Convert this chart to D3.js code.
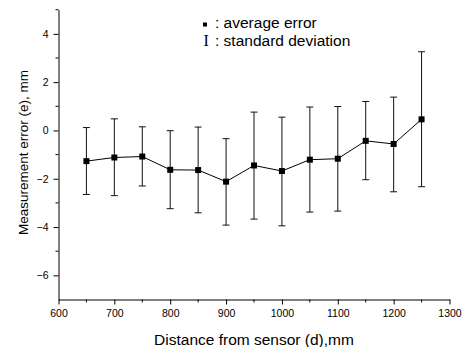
<!DOCTYPE html>
<html>
<head>
<meta charset="utf-8">
<script src="https://cdn.jsdelivr.net/npm/d3@7"></script>
<style>
  body { margin: 0; background: #fff; }
  text { font-family: "Liberation Sans", Arial, sans-serif; fill: #000; }
</style>
</head>
<body>
<div id="svganchor"></div>
<script>
let width = 468, height = 347;

// data
let distances = [650, 700, 750, 800, 850, 900, 950, 1000, 1050, 1100, 1150, 1200, 1250];
let avgError  = [-1.27, -1.12, -1.08, -1.63, -1.64, -2.12, -1.45, -1.68, -1.21, -1.17, -0.43, -0.56, 0.46];
let errTop    = [0.12, 0.48, 0.15, -0.01, 0.14, -0.34, 0.76, 0.55, 0.97, 0.99, 1.20, 1.38, 3.26];
let errBottom = [-2.65, -2.70, -2.30, -3.24, -3.41, -3.92, -3.67, -3.95, -3.38, -3.34, -2.04, -2.54, -2.33];
let xTicks = [600, 700, 800, 900, 1000, 1100, 1200, 1300];
let yTicks = [-6, -4, -2, 0, 2, 4];

let data = distances.map((d, i) => ({ d: d, e: avgError[i], hi: errTop[i], lo: errBottom[i] }));

let svg = d3.select("#svganchor").append("svg").attr("width", width).attr("height", height);

let xScale = d3.scaleLinear().domain([600, 1300]).range([58.5, 449.5]);
let yScale = d3.scaleLinear().domain([-7, 5]).range([299.5, 9.7]);

// x axis with minor ticks
let xAxis = svg.append("g").attr("transform", "translate(0," + yScale(-7) + ")");
xAxis.call(d3.axisBottom(xScale).tickValues(xTicks).tickSize(5).tickSizeOuter(0).tickFormat(d3.format("d")));
xAxis.selectAll(".minor").data(d3.range(650, 1300, 100)).enter().append("line")
  .attr("x1", d => xScale(d)).attr("x2", d => xScale(d)).attr("y1", 0).attr("y2", 3).attr("stroke", "#000");

// y axis with minor ticks
let yAxis = svg.append("g").attr("transform", "translate(" + xScale(600) + ",0)");
yAxis.call(d3.axisLeft(yScale).tickValues(yTicks).tickSize(5).tickSizeOuter(0).tickFormat(d3.format("d")));
yAxis.selectAll(".minor").data(d3.range(-5, 6, 2)).enter().append("line")
  .attr("y1", d => yScale(d)).attr("y2", d => yScale(d)).attr("x1", 0).attr("x2", -3).attr("stroke", "#000");

svg.selectAll(".domain").attr("stroke", "#000");
svg.selectAll(".tick text").style("font-size", "10.5px").style("font-family", "Liberation Sans, Arial, sans-serif");
xAxis.selectAll(".tick text").attr("dy", "0.9em");
yAxis.selectAll(".tick text").attr("x", -10);

// error bars
let bars = svg.append("g").selectAll("g").data(data).enter().append("g").attr("stroke", "#111").attr("stroke-width", 1);
bars.append("line").attr("x1", d => xScale(d.d)).attr("x2", d => xScale(d.d))
  .attr("y1", d => yScale(d.hi)).attr("y2", d => yScale(d.lo));
bars.append("line").attr("x1", d => xScale(d.d) - 3.5).attr("x2", d => xScale(d.d) + 3.5)
  .attr("y1", d => yScale(d.hi)).attr("y2", d => yScale(d.hi));
bars.append("line").attr("x1", d => xScale(d.d) - 3.5).attr("x2", d => xScale(d.d) + 3.5)
  .attr("y1", d => yScale(d.lo)).attr("y2", d => yScale(d.lo));

// line + markers
let line = d3.line().x(d => xScale(d.d)).y(d => yScale(d.e));
svg.append("path").datum(data).attr("d", line).attr("fill", "none").attr("stroke", "#000").attr("stroke-width", 1);
svg.selectAll(".pt").data(data).enter().append("rect").attr("class", "pt")
  .attr("x", d => xScale(d.d) - 3).attr("y", d => yScale(d.e) - 3)
  .attr("width", 6).attr("height", 6).attr("fill", "#000");

// legend
svg.append("rect").attr("x", 203).attr("y", 22.5).attr("width", 4).attr("height", 4).attr("fill", "#000");
svg.append("text").attr("x", 215).attr("y", 27.5).style("font-size", "15.5px").text(": average error");
svg.append("text").attr("x", 203.5).attr("y", 46).style("font-size", "16px")
  .style("font-family", "Liberation Serif, Times New Roman, serif").text("I");
svg.append("text").attr("x", 215).attr("y", 46).style("font-size", "15.5px").text(": standard deviation");

// axis titles
svg.append("text").attr("x", 254).attr("y", 344.5).attr("text-anchor", "middle")
  .style("font-size", "15.5px").text("Distance from sensor (d),mm");
svg.append("text").attr("transform", "translate(28,152.5) rotate(-90)").attr("text-anchor", "middle")
  .style("font-size", "13.5px").text("Measurement error (e), mm");
</script>
</body>
</html>
